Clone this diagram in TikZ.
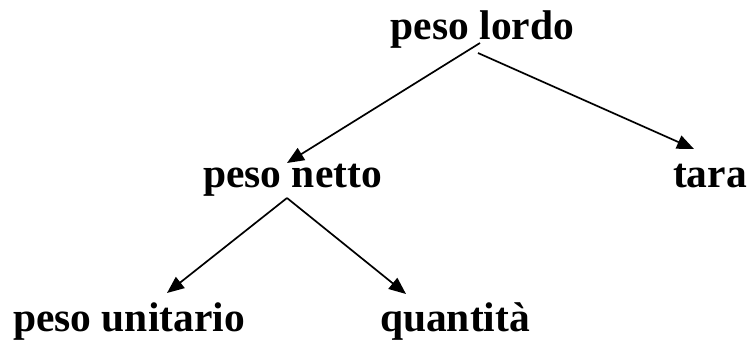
\documentclass[tikz,border=0pt]{standalone}
\usepackage{fontspec}
\setmainfont{Liberation Serif}
\usetikzlibrary{arrows.meta,calc}
\begin{document}
\begin{tikzpicture}[x=1pt,y=1pt,
  lab/.style={anchor=base,inner sep=0pt,font=\fontsize{41.5}{48}\selectfont\bfseries},
  conn/.style={line width=1.7pt,-{Triangle[length=17pt,width=14pt]}}]
\useasboundingbox (0,0) rectangle (750,342);
\node[lab] (lordo) at (482.5,302) {peso lordo};
\node[lab] (netto) at (292.5,154.5) {peso netto};
\node[lab] (tara) at (710,154.5) {tara};
\node[lab] (unit) at (129,10) {peso unitario};
\node[lab] (quant) at (455,10) {quantità};
\draw[conn] ($(lordo.base)+(-2.5,-3)$) -- ($(netto.base)+(-5.5,24.5)$);
\draw[conn] ($(lordo.base)+(-4.5,-13)$) -- ($(tara.base)+(-16,38.5)$);
\draw[conn] ($(netto.base)+(-5.5,-10.5)$) -- ($(unit.base)+(38,39)$);
\draw[conn] ($(netto.base)+(-5.5,-10.5)$) -- ($(quant.base)+(-49,38)$);
\end{tikzpicture}
\end{document}
